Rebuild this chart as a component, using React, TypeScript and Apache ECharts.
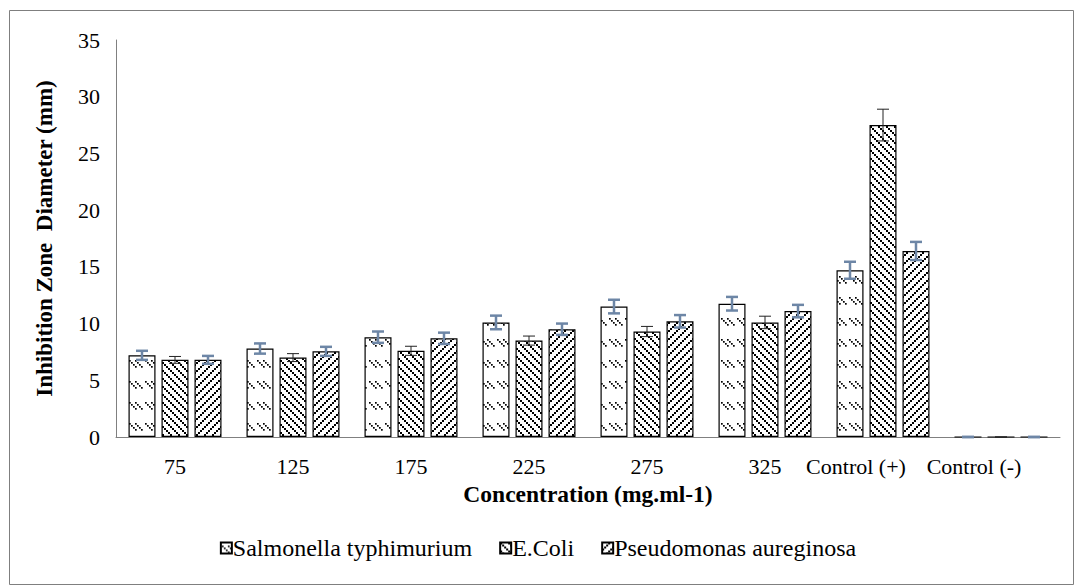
import React, { useEffect, useRef } from "react";
import * as echarts from "echarts";

const categories = ["75", "125", "175", "225", "275", "325", "Control (+)", "Control (-)"];
const seriesNames = ["Salmonella typhimurium", "E.Coli", "Pseudomonas aureginosa"];
const salmonella = [7.2, 7.8, 8.8, 10.1, 11.5, 11.75, 14.7, 0];
const salmonellaErr = [0.4, 0.45, 0.5, 0.6, 0.6, 0.6, 0.75, 0];
const ecoli = [6.8, 7.0, 7.6, 8.5, 9.3, 10.1, 27.5, 0];
const ecoliErr = [0.3, 0.35, 0.4, 0.4, 0.45, 0.55, 1.4, 0];
const pseudomonas = [6.8, 7.55, 8.7, 9.5, 10.2, 11.1, 16.4, 0];
const pseudomonasErr = [0.35, 0.4, 0.5, 0.5, 0.55, 0.55, 0.8, 0];
const yMin = 0;
const yMax = 35;
const yStep = 5;

const SERIF = "Liberation Serif";

function makeTile(w: number, h: number, draw: (c: CanvasRenderingContext2D) => void) {
  const cv = document.createElement("canvas");
  cv.width = w;
  cv.height = h;
  const c = cv.getContext("2d")!;
  c.fillStyle = "#ffffff";
  c.fillRect(0, 0, w, h);
  c.fillStyle = "#000000";
  draw(c);
  return cv;
}

export default function App() {
  const ref = useRef<HTMLDivElement>(null);
  useEffect(() => {
    if (!ref.current) return;
    const chart = echarts.init(ref.current, undefined, { renderer: "svg" });

    const tileSal = makeTile(16, 21, (c) => {
      for (const x0 of [1, 7]) {
        for (const k of [0, 2, 4, 6]) c.fillRect(x0 + k, 3 + k, 1.7, 1.7);
      }
    });
    const tileEco = makeTile(8, 8, (c) => {
      for (const k of [0, 2, 4, 6]) c.fillRect(k, k, 2, 2);
    });
    const tilePse = makeTile(8, 8, (c) => {
      for (const k of [0, 2, 4, 6]) c.fillRect(6 - k, k, 2, 2);
    });
    const tiles = [tileSal, tileEco, tilePse];
    const values = [salmonella, ecoli, pseudomonas];
    const errs = [salmonellaErr, ecoliErr, pseudomonasErr];
    const errColors = ["#6d86a6", "#222222", "#6d86a6"];
    const errWidths = [2.5, 1, 2.5];
    const barWidth = 27;
    const barGapPx = 6;

    const barSeries = seriesNames.map((name, i) => ({
      name,
      type: "bar",
      data: values[i],
      barWidth,
      barGap: (barGapPx / barWidth) * 100 + "%",
      itemStyle: {
        color: { image: tiles[i], repeat: "repeat" },
        borderColor: "#000",
        borderWidth: 1.2,
      },
      z: 2,
    }));

    const errSeries = seriesNames.map((name, i) => ({
      name: name + " err",
      type: "custom",
      z: 5,
      data: values[i].map((v, j) => [j, v, errs[i][j]]),
      encode: { x: 0, y: 1 },
      renderItem: (params: any, api: any) => {
        const ci = api.value(0);
        const v = api.value(1);
        const e = api.value(2);
        const top = api.coord([ci, v + e]);
        const bot = api.coord([ci, v - e]);
        const x = top[0] + (i - 1) * (barWidth + barGapPx);
        const cap = 6;
        const style = { stroke: errColors[i], lineWidth: errWidths[i] };
        return {
          type: "group",
          children: [
            { type: "line", shape: { x1: x, y1: top[1], x2: x, y2: bot[1] }, style },
            { type: "line", shape: { x1: x - cap, y1: top[1], x2: x + cap, y2: top[1] }, style },
            { type: "line", shape: { x1: x - cap, y1: bot[1], x2: x + cap, y2: bot[1] }, style },
          ],
        };
      },
    }));

    chart.setOption({
      animation: false,
      textStyle: { fontFamily: SERIF, color: "#000" },
      graphic: [
        {
          type: "rect",
          shape: { x: 9.5, y: 10.5, width: 1064, height: 574 },
          style: { fill: "none", stroke: "#7f7f7f", lineWidth: 1 },
          silent: true,
        },
      ],
      grid: { left: 116, top: 40, right: 16, bottom: 150 },
      legend: {
        data: seriesNames,
        bottom: 22,
        left: "center",
        icon: "rect",
        itemWidth: 11,
        itemHeight: 11,
        itemGap: 27,
        textStyle: { fontFamily: SERIF, fontSize: 24, color: "#000", padding: [0, 0, 0, -4] },
      },
      xAxis: {
        type: "category",
        data: categories,
        axisTick: { show: false },
        axisLine: { lineStyle: { color: "#808080", width: 1 } },
        axisLabel: {
          fontFamily: SERIF,
          fontSize: 22,
          color: "#000",
          margin: 18,
          interval: 0,
          formatter: (v: string) => (v.indexOf("Control") === 0 ? "{c|" + v + "}" : v),
          rich: {
            c: { fontFamily: SERIF, fontSize: 22, color: "#000", padding: [0, 54, 0, 0] },
          },
        },
        name: "Concentration (mg.ml-1)",
        nameLocation: "middle",
        nameGap: 45,
        nameTextStyle: { fontFamily: SERIF, fontSize: 23.5, fontWeight: "bold", color: "#000" },
      },
      yAxis: {
        type: "value",
        min: yMin,
        max: yMax,
        interval: yStep,
        splitLine: { show: false },
        axisTick: { show: false },
        axisLine: { show: true, lineStyle: { color: "#808080", width: 1 } },
        axisLabel: { fontFamily: SERIF, fontSize: 22, color: "#000", margin: 16 },
        name: "Inhibition Zone  Diameter (mm)",
        nameLocation: "middle",
        nameGap: 60,
        nameTextStyle: { fontFamily: SERIF, fontSize: 23, fontWeight: "bold", color: "#000" },
      },
      series: [...barSeries, ...errSeries],
    });
    return () => chart.dispose();
  }, []);
  return (
    <div
      ref={ref}
      style={{ position: "absolute", left: 0, top: 0, width: 1076, height: 587, background: "#fff" }}
    />
  );
}
